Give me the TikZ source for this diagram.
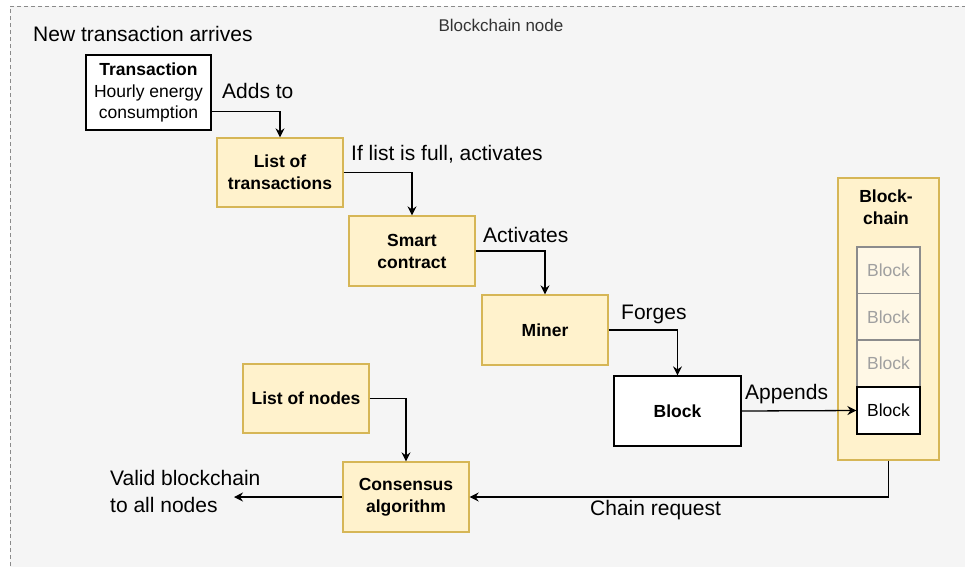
\documentclass[tikz,border=0pt]{standalone}
\usepackage{fontspec}
\setmainfont{Liberation Sans}
\usetikzlibrary{arrows.meta}
\definecolor{ybg}{HTML}{FFF2CC}
\definecolor{ybd}{HTML}{D6B656}
\definecolor{cbg}{HTML}{F5F5F5}
\definecolor{cbd}{HTML}{8A8A8A}
\definecolor{ghostfill}{HTML}{FFF8E6}
\definecolor{ghostline}{HTML}{8C8C8C}
\definecolor{ghosttext}{HTML}{A0A0A0}
\definecolor{titletext}{HTML}{333333}
\tikzset{
  boxtext/.style={font=\fontsize{17.5}{22}\selectfont\bfseries, align=center},
  ybox/.style={draw=ybd, fill=ybg, line width=1.3pt, rectangle, inner sep=0pt, boxtext},
  wbox/.style={draw=black, fill=white, line width=1.3pt, rectangle, inner sep=0pt, boxtext},
  gbox/.style={draw=ghostline, fill=ghostfill, line width=1.3pt, rectangle, inner sep=0pt,
    font=\fontsize{17.5}{22}\selectfont, text=ghosttext, minimum width=63pt, minimum height=47pt},
  lbl/.style={font=\fontsize{21}{27}\selectfont, inner sep=0pt, anchor=west, align=left},
  conn/.style={draw=black, line width=1.3pt, -{Stealth[length=9pt,width=9pt,inset=3pt]}},
}
\begin{document}
\begin{tikzpicture}[x=1pt,y=-1pt]
\clip (0,0) rectangle (965,566);
\fill[white] (0,0) rectangle (965,566);
\fill[cbg] (10,6) rectangle (980,580);
\draw[cbd, line width=1pt, dash pattern=on 4pt off 3pt] (980,6) -- (10,6) -- (10,580);
\node[font=\fontsize{17}{20}\selectfont, text=titletext, inner sep=0pt] (title) at (501,25) {Blockchain node};

\node[lbl] (newtx) at (33,34) {New transaction arrives};

\node[wbox, minimum width=125pt, minimum height=75pt, font=\fontsize{17.5}{21.5}\selectfont] (tx) at (148.5,92.5) {\textbf{Transaction}\\Hourly energy\\consumption};
\node[ybox, minimum width=126pt, minimum height=69pt] (lt) at (280,172.5) {List of\\transactions};
\node[ybox, minimum width=126pt, minimum height=70pt] (sc) at (412,251) {Smart\\contract};
\node[ybox, minimum width=126pt, minimum height=70pt] (mi) at (545,330) {Miner};
\node[wbox, minimum width=127pt, minimum height=70pt] (bk) at (677.5,411) {Block};
\node[ybox, minimum width=101pt, minimum height=282pt] (bc) at (888.5,319) {};
\node[boxtext, inner sep=0pt] (bctitle) at (886,207.5) {Block-\\chain};
\node[gbox] (b1) at (888.5,270.5) {Block};
\node[gbox] (b2) at (888.5,317) {Block};
\node[gbox] (b3) at (888.5,363.5) {Block};
\node[gbox, draw=black, fill=white, text=black] (b4) at (888.5,410.5) {Block};
\node[ybox, minimum width=126pt, minimum height=69pt] (ln) at (306,398.5) {List of nodes};
\node[ybox, minimum width=126pt, minimum height=70pt] (ca) at (406,497) {Consensus\\algorithm};
\coordinate (out) at (234,497);

\node[lbl] (l1) at (222,91) {Adds to};
\node[lbl] (l2) at (351,154) {If list is full, activates};
\node[lbl] (l3) at (483,235) {Activates};
\node[lbl] (l4) at (621,314) {Forges};
\node[lbl] (l5) at (745,394) {Appends};
\node[lbl] (l6) at (590,510) {Chain request};
\node[lbl] (l7) at (110,491.5) {Valid blockchain\\to all nodes};

\draw[conn] ([yshift=-19pt]tx.east) -| (lt.north);
\draw[conn] (lt.east) -| (sc.north);
\draw[conn] (sc.east) -| (mi.north);
\draw[conn] (mi.east) -| (bk.north);
\draw[conn] (bk.east) -- (b4.west);
\draw[conn] (bc.south) |- (ca.east);
\draw[conn] (ln.east) -| (ca.north);
\draw[conn] (ca.west) -- (out);
\end{tikzpicture}
\end{document}
